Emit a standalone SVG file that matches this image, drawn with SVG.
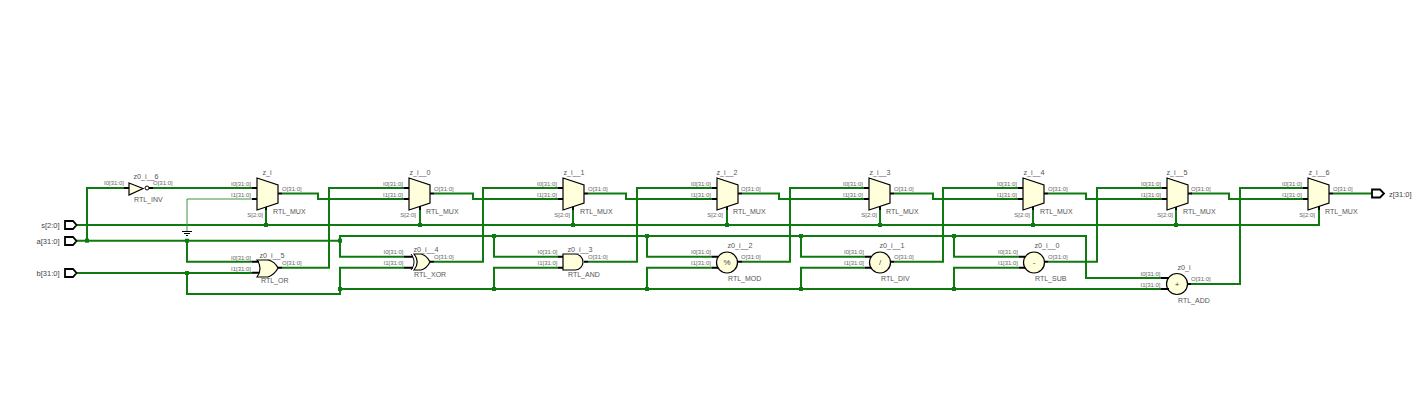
<svg xmlns="http://www.w3.org/2000/svg" width="1419" height="410" viewBox="0 0 1419 410">
<style>
text{font-family:"Liberation Sans",Arial,sans-serif;fill:#555}
.n{font-size:7.2px;text-anchor:middle;dominant-baseline:central}
.t{font-size:7px;dominant-baseline:central}
.p{font-size:6px;dominant-baseline:central;fill:#666}
.e{text-anchor:end}
.b{fill:#ffffdc;stroke:#000;stroke-width:1.2}
.s{stroke:#000;stroke-width:2;fill:none}
.w{stroke:#0f7a0f;stroke-width:2;fill:none}
.th{stroke:#3f933f;stroke-width:1;fill:none}
.j{fill:#0f7a0f}
.port{fill:#fff;stroke:#000;stroke-width:1.8}
.pl{font-size:7.5px;dominant-baseline:central;fill:#444}
.g{font-size:8px;text-anchor:middle;dominant-baseline:central;fill:#444}
</style>
<defs>
<g id="mux"><polygon class="b" points="0,178 21,185 21,203 0,210"/><path class="s" d="M-5,188H0M-5,199H0M21,193.500H25"/></g>
</defs>
<g id="connectors">
<path class="w" d="M76,225H1319V208"/>
<path class="w" d="M266,225V207M420,225V207M573,225V207M727,225V207M880,225V207M1033,225V207M1176,225V207"/>
<path class="w" d="M76,240.700H340M87,240.700V188H124M150,188H252"/>
<path class="w" d="M187,240.700V261.700H252"/>
<path class="w" d="M76,273H252M187,273V294H340V289H1172"/>
<path class="w" d="M340,240.700V236H1086V278H1166"/>
<path class="w" d="M340,236V256.700H404M340,289V267.700H404"/>
<path class="w" d="M494,236V256.700H558M494,289V267.700H558"/>
<path class="w" d="M647,236V256.700H712M647,289V267.700H712"/>
<path class="w" d="M801,236V256.700H865M801,289V267.700H865"/>
<path class="w" d="M954,236V256.700H1019M954,289V267.700H1019"/>
<path class="w" d="M282,267.700H329V188H404M434,261.700H483V188H558M588,261.700H637V188H712M742,261.700H790V188H864M894,261.700H943V188H1018M1048,261.700H1097V188H1162M1191,284H1240V188H1303"/>
<path class="w" d="M282,193.500H318V199H404M434,193.500H473V199H558M588,193.500H626V199H712M742,193.500H779V199H864M894,193.500H933V199H1018M1048,193.500H1086V199H1162M1191,193.500H1229V199H1303M1333,193.500H1372"/>
<path class="th" d="M252,199H187V231"/>
<path stroke="#000" stroke-width="1" d="M182,231.500h10M184,233.500h6M186,235.500h2"/>
<path class="s" d="M266,206V210M420,206V210M573,206V210M727,206V210M880,206V210M1033,206V210M1176,206V210M1319,206V210"/>
<g class="j">
<rect x="85" y="238.700" width="4" height="4"/><rect x="185" y="238.700" width="4" height="4"/><rect x="185" y="271" width="4" height="4"/><rect x="338" y="238.700" width="4" height="4"/><rect x="338" y="287" width="4" height="4"/>
<rect x="492" y="234" width="4" height="4"/><rect x="645" y="234" width="4" height="4"/><rect x="799" y="234" width="4" height="4"/><rect x="952" y="234" width="4" height="4"/>
<rect x="492" y="287" width="4" height="4"/><rect x="645" y="287" width="4" height="4"/><rect x="799" y="287" width="4" height="4"/><rect x="952" y="287" width="4" height="4"/>
<rect x="264" y="223" width="4" height="4"/><rect x="418" y="223" width="4" height="4"/><rect x="571" y="223" width="4" height="4"/><rect x="725" y="223" width="4" height="4"/><rect x="878" y="223" width="4" height="4"/><rect x="1031" y="223" width="4" height="4"/><rect x="1174" y="223" width="4" height="4"/>
</g>
</g>
<g id="port_s"><polygon class="port" points="65,221 73,221 76.500,225 73,229 65,229"/><text class="pl e" x="59.500" y="225">s[2:0]</text></g>
<g id="port_a"><polygon class="port" points="65,237 73,237 76.500,241 73,245 65,245"/><text class="pl e" x="59.500" y="241">a[31:0]</text></g>
<g id="port_b"><polygon class="port" points="65,269 73,269 76.500,273 73,277 65,277"/><text class="pl e" x="59.500" y="273">b[31:0]</text></g>
<g id="port_z"><polygon class="port" points="1372,189.500 1380,189.500 1384,193.500 1380,197.500 1372,197.500"/><text class="pl" x="1389" y="194">z[31:0]</text></g>
<g id="z0_i__6"><polygon class="b" points="129,183 143,188.500 129,195"/><circle cx="147" cy="188" r="2" fill="#fff" stroke="#000"/><path class="s" d="M124,188H129M149,188H153"/><text class="n" x="146" y="176">z0_i__6</text><text class="p e" x="124" y="183">I0[31:0]</text><text class="p" x="153" y="183">O[31:0]</text><text class="t" x="134" y="199">RTL_INV</text></g>
<g id="z_i"><use href="#mux" x="257"/><text class="n" x="267" y="172">z_i</text><text class="p e" x="251" y="184">I0[31:0]</text><text class="p e" x="251" y="195">I1[31:0]</text><text class="p" x="282" y="189">O[31:0]</text><text class="p e" x="263" y="215">S[2:0]</text><text class="t" x="273" y="211">RTL_MUX</text></g>
<g id="z_i__0"><use href="#mux" x="409"/><text class="n" x="420" y="172">z_i__0</text><text class="p e" x="403" y="184">I0[31:0]</text><text class="p e" x="403" y="195">I1[31:0]</text><text class="p" x="434" y="189">O[31:0]</text><text class="p e" x="416" y="215">S[2:0]</text><text class="t" x="426" y="211">RTL_MUX</text></g>
<g id="z_i__1"><use href="#mux" x="563"/><text class="n" x="574" y="172">z_i__1</text><text class="p e" x="557" y="184">I0[31:0]</text><text class="p e" x="557" y="195">I1[31:0]</text><text class="p" x="588" y="189">O[31:0]</text><text class="p e" x="570" y="215">S[2:0]</text><text class="t" x="580" y="211">RTL_MUX</text></g>
<g id="z_i__2"><use href="#mux" x="717"/><text class="n" x="727" y="172">z_i__2</text><text class="p e" x="711" y="184">I0[31:0]</text><text class="p e" x="711" y="195">I1[31:0]</text><text class="p" x="741" y="189">O[31:0]</text><text class="p e" x="723" y="215">S[2:0]</text><text class="t" x="733" y="211">RTL_MUX</text></g>
<g id="z_i__3"><use href="#mux" x="869"/><text class="n" x="880" y="172">z_i__3</text><text class="p e" x="863" y="184">I0[31:0]</text><text class="p e" x="863" y="195">I1[31:0]</text><text class="p" x="894" y="189">O[31:0]</text><text class="p e" x="877" y="215">S[2:0]</text><text class="t" x="886" y="211">RTL_MUX</text></g>
<g id="z_i__4"><use href="#mux" x="1023"/><text class="n" x="1034" y="172">z_i__4</text><text class="p e" x="1017" y="184">I0[31:0]</text><text class="p e" x="1017" y="195">I1[31:0]</text><text class="p" x="1048" y="189">O[31:0]</text><text class="p e" x="1030" y="215">S[2:0]</text><text class="t" x="1040" y="211">RTL_MUX</text></g>
<g id="z_i__5"><use href="#mux" x="1167"/><text class="n" x="1177" y="172">z_i__5</text><text class="p e" x="1161" y="184">I0[31:0]</text><text class="p e" x="1161" y="195">I1[31:0]</text><text class="p" x="1191" y="189">O[31:0]</text><text class="p e" x="1173" y="215">S[2:0]</text><text class="t" x="1183" y="211">RTL_MUX</text></g>
<g id="z_i__6"><use href="#mux" x="1308"/><text class="n" x="1319" y="172">z_i__6</text><text class="p e" x="1302" y="184">I0[31:0]</text><text class="p e" x="1302" y="195">I1[31:0]</text><text class="p" x="1333" y="189">O[31:0]</text><text class="p e" x="1315" y="215">S[2:0]</text><text class="t" x="1325" y="211">RTL_MUX</text></g>
<g id="z0_i__5"><path class="b" d="M257,260H268C273,261 276,264 278,268C276,272 273,275 268,277H257C261,272 261,265 257,260Z"/><path class="s" d="M252,261.700H259M252,272.700H259M278,267.700H282"/><text class="n" x="272" y="255.500">z0_i__5</text><text class="p e" x="251" y="258">I0[31:0]</text><text class="p e" x="251" y="269">I1[31:0]</text><text class="p" x="282" y="263">O[31:0]</text><text class="t" x="261" y="280">RTL_OR</text></g>
<g id="z0_i__4"><path class="b" d="M414,254H421C425,255 428,258 430,262C428,266 425,269 421,270H414C418,265 418,259 414,254Z"/><path fill="none" stroke="#000" d="M411,254C415,259 415,265 411,270"/><path class="s" d="M404,256.700H413M404,267.700H413M430,261.700H434"/><text class="n" x="426" y="249">z0_i__4</text><text class="p e" x="403.500" y="252">I0[31:0]</text><text class="p e" x="403.500" y="263">I1[31:0]</text><text class="p" x="434" y="257">O[31:0]</text><text class="t" x="414" y="274">RTL_XOR</text></g>
<g id="z0_i__3"><path class="b" d="M563,254H575A8,8 0 0 1 575,270H563Z"/><path class="s" d="M558,256.700H563M558,267.700H563M584,261.700H588"/><text class="n" x="580" y="249">z0_i__3</text><text class="p e" x="557.500" y="252">I0[31:0]</text><text class="p e" x="557.500" y="263">I1[31:0]</text><text class="p" x="588" y="257">O[31:0]</text><text class="t" x="568" y="274">RTL_AND</text></g>
<g id="z0_i__2"><circle class="b" cx="727" cy="262.500" r="10.500"/><path class="s" d="M712,256.700H718M712,267.700H718M737,261.700H742"/><text class="g" x="727" y="262.500">%</text><text class="n" x="740" y="245">z0_i__2</text><text class="p e" x="711" y="252">I0[31:0]</text><text class="p e" x="711" y="263">I1[31:0]</text><text class="p" x="741" y="257">O[31:0]</text><text class="t" x="728" y="278">RTL_MOD</text></g>
<g id="z0_i__1"><circle class="b" cx="880" cy="262.500" r="10.500"/><path class="s" d="M865,256.700H871M865,267.700H871M890,261.700H894"/><text class="g" x="880" y="262.500">/</text><text class="n" x="892" y="245">z0_i__1</text><text class="p e" x="864" y="252">I0[31:0]</text><text class="p e" x="864" y="263">I1[31:0]</text><text class="p" x="894" y="257">O[31:0]</text><text class="t" x="881" y="278">RTL_DIV</text></g>
<g id="z0_i__0"><circle class="b" cx="1034" cy="262.500" r="10.500"/><path class="s" d="M1019,256.700H1025M1019,267.700H1025M1044,261.700H1048"/><text class="g" x="1034" y="262.500">-</text><text class="n" x="1047" y="245">z0_i__0</text><text class="p e" x="1018" y="252">I0[31:0]</text><text class="p e" x="1018" y="263">I1[31:0]</text><text class="p" x="1048" y="257">O[31:0]</text><text class="t" x="1035" y="278">RTL_SUB</text></g>
<g id="z0_i"><circle class="b" cx="1177" cy="284" r="10.500"/><path class="s" d="M1161,278H1169M1161,289H1169M1187,284H1191"/><text class="g" x="1177" y="284">+</text><text class="n" x="1184" y="267">z0_i</text><text class="p e" x="1160.500" y="274">I0[31:0]</text><text class="p e" x="1160.500" y="285">I1[31:0]</text><text class="p" x="1191" y="279">O[31:0]</text><text class="t" x="1178" y="300">RTL_ADD</text></g>
</svg>
